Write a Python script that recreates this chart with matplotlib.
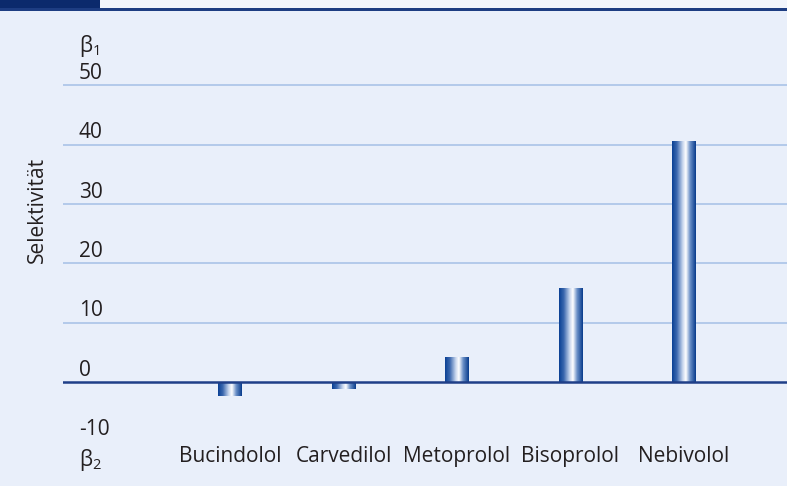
import numpy as np
import matplotlib
matplotlib.use("Agg")
import matplotlib.pyplot as plt
from matplotlib.colors import LinearSegmentedColormap
from matplotlib.patches import Rectangle

categories = ["Bucindolol", "Carvedilol", "Metoprolol", "Bisoprolol", "Nebivolol"]
values = [-2.3, -1.1, 4.2, 15.9, 40.7]
grid_values = [10, 20, 30, 40, 50]
tick_values = [-10, 0, 10, 20, 30, 40, 50]
tick_labels = ["-10", "0", "10", "20", "30", "40", "50"]
ylabel = "Selektivität"
top_label = "β$_1$"
bottom_label = "β$_2$"

plt.rcParams['font.family'] = ['Open Sans', 'DejaVu Sans']
plt.rcParams['mathtext.default'] = 'regular'

W, H = 787, 486
BG = "#E9EFFA"
TXT = "#231F20"
FS = 15
fig = plt.figure(figsize=(W / 100, H / 100), dpi=100)
fig.patch.set_facecolor(BG)

ax = fig.add_axes([63 / W, 1 - 471 / H, 724 / W, 445 / H])
ax.axis('off')

# gridlines
for g in grid_values:
    ax.axhline(g, color="#B3C9EA", lw=1.4, zorder=1)
ax.axhline(0, color="#1F3F88", lw=1.8, zorder=4)

# gradient bars
cmap = LinearSegmentedColormap.from_list(
    "bar", [(0.0, "#0A4094"), (0.2, "#3A67AE"), (0.45, "#C9D7EE"),
            (0.58, "#FFFFFF"), (0.76, "#6A8FC7"), (1.0, "#073B8C")])
grad = np.linspace(0, 1, 256).reshape(1, -1)
x = np.arange(len(categories))
bars = ax.bar(x, values, width=0.21, color="none", zorder=3)
for b in bars:
    x0, w = b.get_x(), b.get_width()
    y0, h = b.get_y(), b.get_height()
    ylo, yhi = min(y0, y0 + h), max(y0, y0 + h)
    im = ax.imshow(grad, cmap=cmap, aspect="auto",
                   extent=[x0, x0 + w, ylo, yhi], zorder=3)
    im.set_clip_path(b)
ax.set_xlim(-1.471, 4.908)
ax.set_ylim(-15, 60)

# y tick labels
ytr = ax.get_yaxis_transform()
for v, lab in zip(tick_values, tick_labels):
    ax.text(0.022, v + 2.0, lab, transform=ytr, ha="left", va="center",
            fontsize=FS, color=TXT)
ax.text(0.022, 56.7, top_label, transform=ytr, ha="left", va="center",
        fontsize=FS, color=TXT)
ax.text(0.022, -13.2, bottom_label, transform=ytr, ha="left", va="center",
        fontsize=FS, color=TXT)

# category labels
for xi, cat in zip(x, categories):
    ax.text(xi, -12.6, cat, ha="center", va="center", fontsize=FS, color=TXT)

fig.text(37 / W, 1 - 210 / H, ylabel, rotation=90, ha="center", va="center",
         fontsize=FS, color=TXT)

# top decoration
fig.add_artist(Rectangle((0, 1 - 9 / H), 1, 9 / H, transform=fig.transFigure,
                         facecolor="#F1F5FC", edgecolor="none"))
fig.add_artist(Rectangle((0, 1 - 9 / H), 100 / W, 9 / H, transform=fig.transFigure,
                         facecolor="#0B2A6C", edgecolor="none"))
fig.add_artist(Rectangle((0, 1 - 11 / H), 1, 2.5 / H, transform=fig.transFigure,
                         facecolor="#1D3D82", edgecolor="none"))

fig.savefig("out.png", dpi=100, facecolor=BG)
